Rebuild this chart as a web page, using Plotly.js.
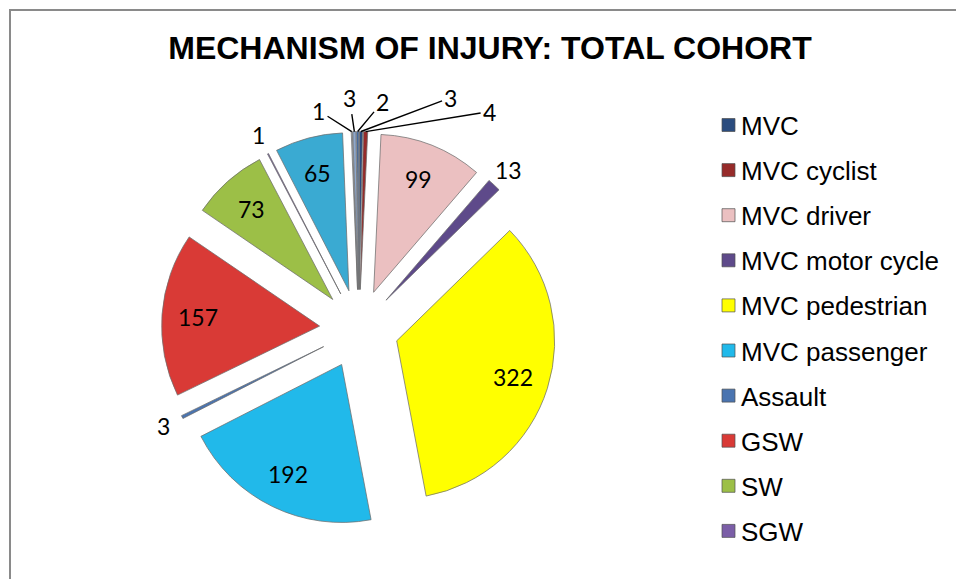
<!DOCTYPE html>
<html><head><meta charset="utf-8">
<script src="https://cdn.plot.ly/plotly-3.0.1.min.js"></script>
<style>html,body{margin:0;padding:0;background:#fff}#chart{width:956px;height:579px}</style>
</head><body><div id="chart"></div>
<script>
// ---- data ----
const categories = ["MVC","MVC cyclist","MVC driver","MVC motor cycle","MVC pedestrian","MVC passenger","Assault","GSW","SW","SGW","Category 11","Category 12","Category 13","Category 14"];
const counts = [3,4,99,13,322,192,3,157,73,1,65,1,3,2];
const legendShown = 10; // the reference legend lists the first ten categories
const titleText = "MECHANISM OF INJURY: TOTAL COHORT";

// ---- style ----
const sliceColors = ["#2B4C7E","#962B2A","#EBC0C1","#5E4A8A","#FFFF00","#21B9EA","#4A74B0","#D93A36","#9CBF47","#7B5EA7","#3AAAD2","#C5D0E0","#8FA8CC","#3F6AA6"];
const labelMode = ["lead","lead","in","out","in","in","out","in","in","out","in","lead","lead","lead"];
const leaderOffsets = {0:[90,-34],1:[124,-20],11:[-33,-21],12:[-5,-34],13:[25,-30]};
const W = 956, H = 579;
const CX = 359, CY = 329, R = 158, PULL = 0.25;
const IN_K = 0.77, OUT_K = 1.13;

const px2x = p => p / W;
const py2y = p => 1 - p / H;

const outer = R * (1 + PULL);
const domain = {
  x: [px2x(CX - outer), px2x(CX + outer)],
  y: [py2y(CY + outer), py2y(CY - outer)]
};

const total = counts.reduce((a, b) => a + b, 0);
const annotations = [];
let cum = 0;
counts.forEach((v, i) => {
  const mid = (cum + v / 2) / total * 2 * Math.PI;
  cum += v;
  const sx = Math.sin(mid), sy = -Math.cos(mid);
  const tx = CX + PULL * R * sx, ty = CY + PULL * R * sy;
  const font = {family: "Lato, 'Open Sans', sans-serif", size: 23, color: "#000"};
  if (labelMode[i] === "in" || labelMode[i] === "out") {
    const k = labelMode[i] === "in" ? IN_K : OUT_K;
    annotations.push({xref: "paper", yref: "paper", x: px2x(tx + k * R * sx), y: py2y(ty + k * R * sy),
      text: String(v), showarrow: false, xanchor: "center", yanchor: "middle", font});
  } else {
    const off = leaderOffsets[i];
    annotations.push({xref: "paper", yref: "paper", x: px2x(tx + R * sx), y: py2y(ty + R * sy),
      text: String(v), showarrow: true, arrowhead: 0, arrowwidth: 1.4, arrowcolor: "#000",
      ax: off[0], ay: off[1], standoff: 0, startstandoff: 1, font});
  }
});

// manual legend (first ten categories)
const shapes = [];
for (let i = 0; i < legendShown; i++) {
  const rowY = 125 + i * 45.1;
  shapes.push({type: "rect", xref: "paper", yref: "paper",
    x0: px2x(722), x1: px2x(735), y0: py2y(rowY + 6.5), y1: py2y(rowY - 6.5),
    fillcolor: sliceColors[i], line: {color: "rgba(80,80,80,0.7)", width: 1}});
  annotations.push({xref: "paper", yref: "paper", x: px2x(739), y: py2y(rowY + 1),
    text: categories[i], showarrow: false, xanchor: "left", yanchor: "middle",
    font: {family: "'Liberation Sans', Arial, sans-serif", size: 26, color: "#000"}});
}
// chart-area frame (left and top edges visible)
shapes.push({type: "line", xref: "paper", yref: "paper", x0: px2x(10), x1: px2x(10), y0: py2y(10), y1: 0,
  line: {color: "#8A8A8A", width: 2}});
shapes.push({type: "line", xref: "paper", yref: "paper", x0: px2x(9), x1: 1, y0: py2y(10), y1: py2y(10),
  line: {color: "#8A8A8A", width: 2}});

const trace = {
  type: "pie", labels: categories, values: counts, sort: false, direction: "clockwise", rotation: 0,
  pull: counts.map(() => PULL),
  marker: {colors: sliceColors, line: {color: "rgba(110,110,110,0.75)", width: 1}},
  textinfo: "none", hoverinfo: "label+value", domain, showlegend: false
};

const layout = {
  width: W, height: H, margin: {l: 0, r: 0, t: 0, b: 0},
  paper_bgcolor: "#fff", plot_bgcolor: "#fff", showlegend: false,
  title: {text: "<b>" + titleText + "</b>", x: 490 / W, xanchor: "center", y: py2y(48), yanchor: "middle",
    xref: "paper", yref: "paper",
    font: {family: "'Liberation Sans', Arial, sans-serif", size: 32, color: "#000"}},
  annotations, shapes
};

Plotly.newPlot("chart", [trace], layout, {displayModeBar: false, staticPlot: true});
</script>
</body></html>
